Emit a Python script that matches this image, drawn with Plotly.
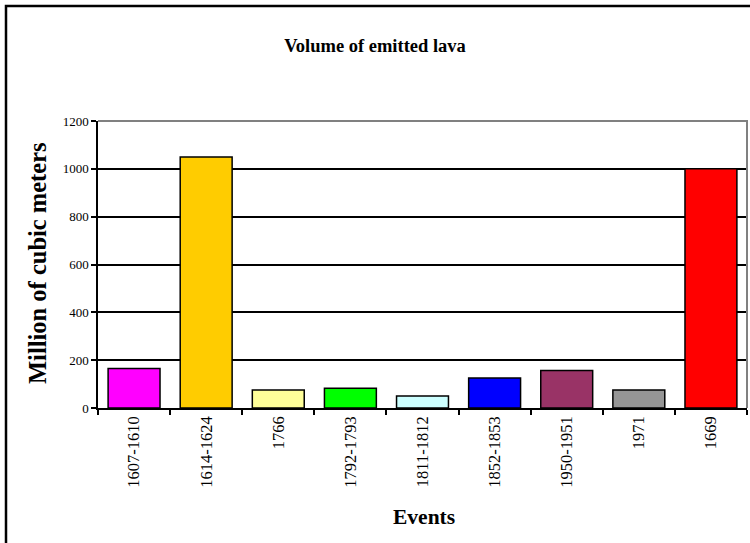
import plotly.graph_objects as go

# Lava volume per eruptive event (million m³)
events = ["1607-1610", "1614-1624", "1766", "1792-1793", "1811-1812",
          "1852-1853", "1950-1951", "1971", "1669"]
volumes = [165, 1050, 75, 83, 50, 125, 157, 75, 1000]
bar_colors = ["#FF00FF", "#FFCC00", "#FFFF99", "#00FF00", "#CCFFFF",
              "#0000FF", "#993366", "#969696", "#FF0000"]
y_ticks = [0, 200, 400, 600, 800, 1000, 1200]

W, H = 750, 543
L, R, T, B = 98, 3, 121, 135
pw, ph = W - L - R, H - T - B

def px_x(px):
    return (px - L) / pw

def px_y(py):
    return (H - B - py) / ph

serif = "Liberation Serif, Times New Roman, serif"

fig = go.Figure(go.Bar(
    x=events, y=volumes,
    marker=dict(color=bar_colors, line=dict(color="black", width=1.5)),
))

fig.update_layout(
    width=W, height=H,
    margin=dict(l=L, r=R, t=T, b=B),
    paper_bgcolor="white", plot_bgcolor="white",
    bargap=0.28, showlegend=False,
    font=dict(family=serif, color="black"),
    title=dict(text="<b>Volume of emitted lava</b>", x=0.5, xanchor="center",
               y=1 - 46 / H, yanchor="middle",
               font=dict(family=serif, size=18.5, color="black")),
    xaxis=dict(type="category", showline=True, linecolor="black", linewidth=1.5,
               ticks="outside", ticklen=5, tickcolor="black", tickwidth=1.5,
               tickson="boundaries", tickangle=-90,
               tickfont=dict(family=serif, size=16.5, color="black"),
               showgrid=False, fixedrange=True),
    yaxis=dict(range=[0, 1200], tickvals=y_ticks, showline=True,
               linecolor="black", linewidth=1.5, ticks="outside", ticklen=5,
               tickcolor="black", tickwidth=1.5,
               tickfont=dict(family=serif, size=13, color="black"),
               showgrid=True, gridcolor="black", gridwidth=1.5,
               zeroline=False, fixedrange=True),
)

# Axis titles
fig.add_annotation(text="<b>Million of cubic meters</b>", xref="paper", yref="paper",
                   x=px_x(37), y=px_y(263), textangle=-90, showarrow=False,
                   xanchor="center", yanchor="middle",
                   font=dict(family=serif, size=24.5, color="black"))
fig.add_annotation(text="<b>Events</b>", xref="paper", yref="paper",
                   x=px_x(424), y=px_y(517), showarrow=False,
                   xanchor="center", yanchor="middle",
                   font=dict(family=serif, size=21.5, color="black"))

# Grey plot-area frame on top and right
fig.add_shape(type="path", xref="paper", yref="paper",
              path="M 0 1 L 1 1 L 1 0", line=dict(color="#808080", width=2),
              layer="above")

# Outer chart border (extends past the page's right and bottom)
fig.add_shape(type="path", xref="paper", yref="paper",
              path=f"M {px_x(6)} {px_y(560)} L {px_x(6)} {px_y(6)} L {px_x(770)} {px_y(6)}",
              line=dict(color="black", width=2.5), layer="above")

fig.write_html("out.html")
